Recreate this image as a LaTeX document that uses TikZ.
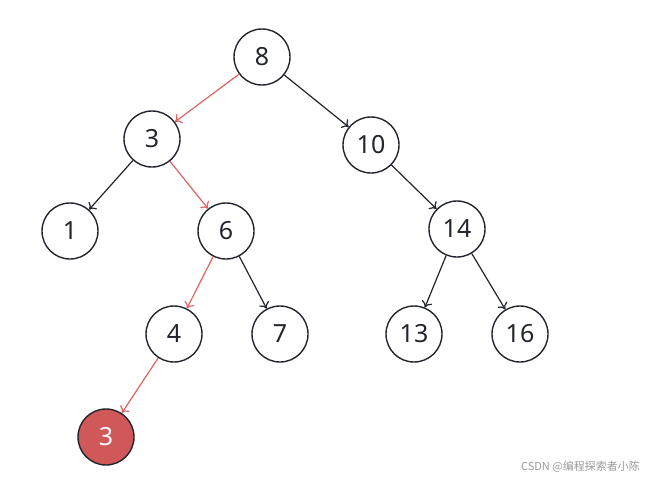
\documentclass[tikz,border=0pt]{standalone}
\usepackage{fontspec}
\setmainfont{Noto Sans}
\newfontfamily\cjk{Noto Sans CJK SC}
\usetikzlibrary{arrows.meta}
\definecolor{ink}{HTML}{22252E}
\definecolor{hred}{HTML}{E06464}
\definecolor{nodered}{HTML}{D05858}
\definecolor{wm}{HTML}{9A9A9A}
\tikzset{
  tnode/.style={circle,draw=ink,line width=1.4pt,minimum size=56pt,inner sep=0pt,
    font=\fontsize{25}{25}\selectfont,text=ink,fill=white},
  hlnode/.style={tnode,fill=nodered,text=white},
  edge/.style={draw=ink,line width=1.2pt,-{To[length=6pt,width=11pt]}},
  hledge/.style={edge,draw=hred}
}
\begin{document}
\begin{tikzpicture}[x=1pt,y=-1pt]
\useasboundingbox[fill=white] (0,0) rectangle (645,479);
\node[tnode] (n8) at (262,57) {8};
\node[tnode] (n3) at (152,139) {3};
\node[tnode] (n10) at (371,145) {10};
\node[tnode] (n1) at (70,231) {1};
\node[tnode] (n6) at (226,231) {6};
\node[tnode] (n14) at (457,229) {14};
\node[tnode] (n4) at (174,334) {4};
\node[tnode] (n7) at (280,334) {7};
\node[tnode] (n13) at (414,334) {13};
\node[tnode] (n16) at (520,334) {16};
\node[hlnode] (r3) at (106,437) {3};
\draw[hledge] (n8) -- (n3);
\draw[edge] (n8) -- (n10);
\draw[edge] (n3) -- (n1);
\draw[hledge] (n3) -- (n6);
\draw[edge] (n10) -- (n14);
\draw[hledge] (n6) -- (n4);
\draw[edge] (n6) -- (n7);
\draw[edge] (n14) -- (n13);
\draw[edge] (n14) -- (n16);
\draw[hledge] (n4) -- (r3);
\node[anchor=east,text=wm,font=\cjk\fontsize{11}{11}\selectfont,inner sep=0pt] (wmk) at (640,467) {CSDN @编程探索者小陈};
\end{tikzpicture}
\end{document}
